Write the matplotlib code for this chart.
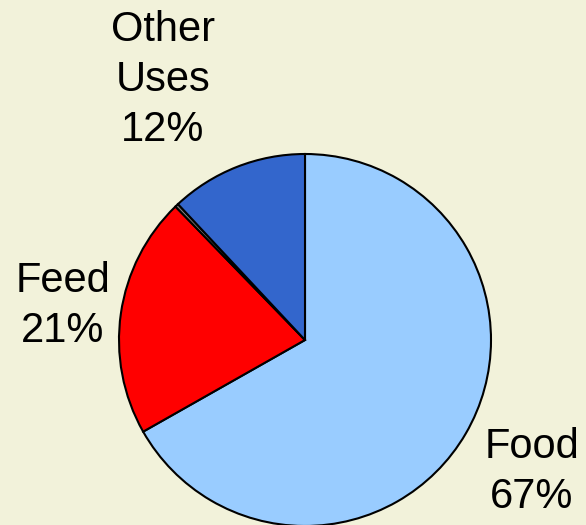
import matplotlib
matplotlib.use('Agg')
import matplotlib.pyplot as plt

# slice data (clockwise from 12 o'clock)
names = ["Food", "Feed", "", "Other\nUses"]
values = [67, 21, 0.3, 12]
colors = ['#99CCFF', '#FF0000', '#808080', '#3366CC']
bg = '#F2F2DA'

plt.rcParams['font.family'] = ['Liberation Sans', 'DejaVu Sans']

fig = plt.figure(figsize=(5.86, 5.25), dpi=100, facecolor=bg)
ax = fig.add_axes([0, 0, 1, 1])
ax.set_facecolor(bg)

# work in pixel-like coordinates, y measured from the bottom
ax.pie(values, colors=colors, startangle=90, counterclock=False,
       center=(305, 185), radius=186,
       wedgeprops=dict(edgecolor='black', linewidth=1.5))
ax.set_xlim(0, 586)
ax.set_ylim(0, 525)
ax.set_aspect('equal')
ax.axis('off')

# label positions (x, y) in the same coordinates
label_pos = {"Food": (532, 53), "Feed": (63, 219), "Other\nUses": (163, 445)}
for name, val in zip(names, values):
    if not name:
        continue
    x, y = label_pos[name]
    ax.text(x, y, name + "\n" + "{:d}%".format(int(val)), fontsize=30,
            ha='center', va='center', linespacing=1.32)

fig.savefig('out.png', dpi=100, facecolor=bg)
